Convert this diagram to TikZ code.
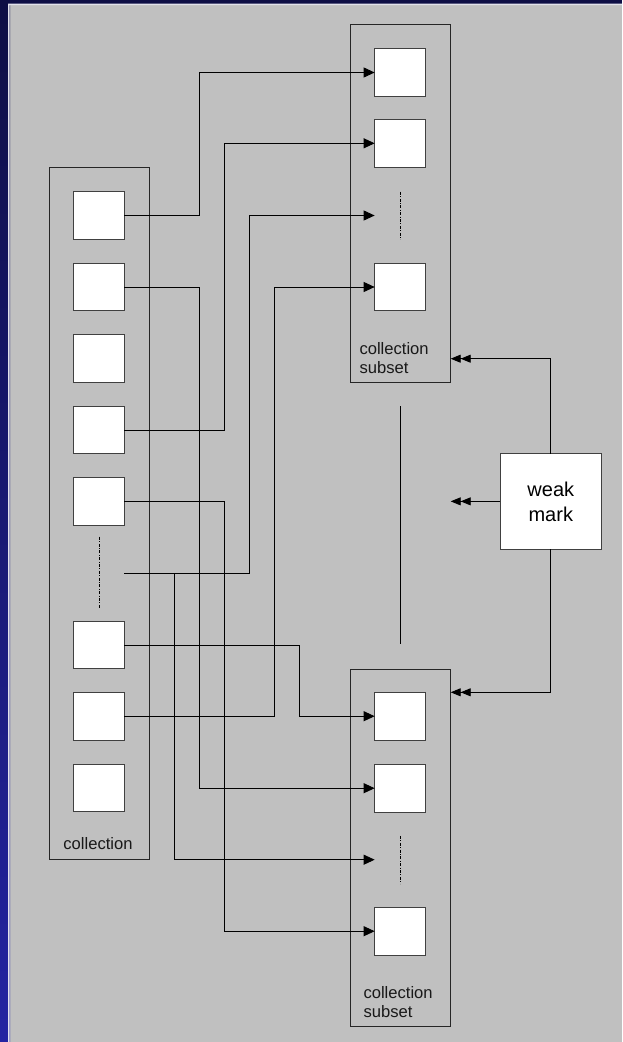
\documentclass[tikz,border=0pt]{standalone}
\usepackage{fontspec}
\setmainfont{Liberation Sans}
\usetikzlibrary{arrows.meta,calc}
\definecolor{bgGrey}{HTML}{C0C0C0}
\definecolor{navyTop}{HTML}{0E0E45}
\definecolor{navyBot}{HTML}{2424A2}
\definecolor{rimLight}{HTML}{E2E2EA}
\definecolor{edgeGrey}{HTML}{404040}
\begin{document}
\begin{tikzpicture}[x=1pt,y=-1pt,
  item/.style={draw=edgeGrey, fill=white, line width=0.9pt, minimum width=50.7pt, minimum height=47.8pt, inner sep=0pt, outer sep=0pt},
  group/.style={draw=black!85, line width=0.9pt, inner sep=0pt, outer sep=0pt},
  markbox/.style={draw=edgeGrey, fill=white, line width=0.9pt, minimum width=101pt, minimum height=95.3pt, inner sep=0pt, outer sep=0pt, align=center, font=\fontsize{20}{25}\selectfont},
  link/.style={line width=0.9pt, draw=black},
  arr/.style={link, -{Triangle[length=11pt,width=10pt]}},
  dbl/.style={link, -{Triangle[length=10pt,width=8pt]Triangle[length=10pt,width=8pt]}},
  grouplabel/.style={font=\fontsize{16.6}{18.7}\selectfont, text=black!90, inner sep=0pt, align=left, anchor=north west},
  placeholder/.style={line width=0.7pt, dash pattern=on 3pt off 1.5pt on 0.8pt off 1.5pt}
]
% background
\useasboundingbox (0,0) rectangle (622,1042);
\fill[bgGrey] (0,0) rectangle (622,1042);
\fill[navyTop] (0,0) rectangle (622,5);
\shade[top color=navyTop, bottom color=navyBot] (0,0) rectangle (10,1042);
\fill[rimLight] (8,3.5) -- (622,3.5) -- (622,5.2) -- (9.7,5.2) -- (9.7,1042) -- (8,1042) -- cycle;

% containers
\node[group, minimum width=100.3pt, minimum height=692.4pt] (coll) at (99.15,513.5) {};
\node[group, minimum width=100.7pt, minimum height=358pt] (s1) at (400.35,203.3) {};
\node[group, minimum width=100.7pt, minimum height=357pt] (s2) at (400.35,847.5) {};

% container labels
\node[font=\fontsize{16.6}{18.7}\selectfont, text=black!90, inner sep=0pt, anchor=base] (colllabel) at (98,849.5) {collection};
\node[grouplabel] (s1label) at (359.3,342.3) {collection\\subset};
\node[grouplabel] (s2label) at (363.3,986.6) {collection\\subset};

% collection items
\node[item] (c1) at (98.7,215.5) {};
\node[item] (c2) at (98.7,287) {};
\node[item] (c3) at (98.7,358.5) {};
\node[item] (c4) at (98.7,430) {};
\node[item] (c5) at (98.7,501.5) {};
\node[item] (c6) at (98.7,645) {};
\node[item] (c7) at (98.7,716.3) {};
\node[item] (c8) at (98.7,788) {};
\coordinate (cd) at (124.05,573.3);

% subset items
\node[item] (s1a) at (400,72.5) {};
\node[item] (s1b) at (400,143.3) {};
\coordinate (s1d) at (374.65,215.5);
\node[item] (s1c) at (400,287) {};
\node[item] (s2a) at (400,716.2) {};
\node[item] (s2b) at (400,788.2) {};
\coordinate (s2d) at (374.65,859.7);
\node[item] (s2c) at (400,931.2) {};

% placeholders
\draw[placeholder] (99,536.7) -- (99,609);
\draw[placeholder] (400.5,191.7) -- (400.5,239.3);
\draw[placeholder] (400.5,835.9) -- (400.5,883.5);

% weak mark
\node[markbox] (wm) at (550.8,501.35) {weak\\mark};
\coordinate (wmtip) at (450.7,501.35);

% connectors
\draw[arr] (c1.east) -- ++(75.3,0) |- (s1a.west);
\draw[arr] (c2.east) -- ++(75.3,0) |- (s2b.west);
\draw[arr] (c4.east) -- ++(100,0) |- (s1b.west);
\draw[arr] (c5.east) -- ++(100,0) |- (s2c.west);
\draw[arr] (cd) -- ++(125.4,0) |- (s1d);
\draw[arr] ($(cd)+(50,0)$) |- (s2d);
\draw[arr] (c6.east) -- ++(175.6,0) |- (s2a.west);
\draw[arr] (c7.east) -- ++(150.2,0) |- (s1c.west);

\draw[link, shorten <=23.7pt, shorten >=24.7pt] (s1.south) -- (s2.north);
\draw[dbl] (wm.north) |- ([yshift=23.6pt]s1.south east);
\draw[dbl] (wm.south) |- ([yshift=-23.3pt]s2.north east);
\draw[dbl] (wm.west) -- (wmtip);
\end{tikzpicture}
\end{document}
